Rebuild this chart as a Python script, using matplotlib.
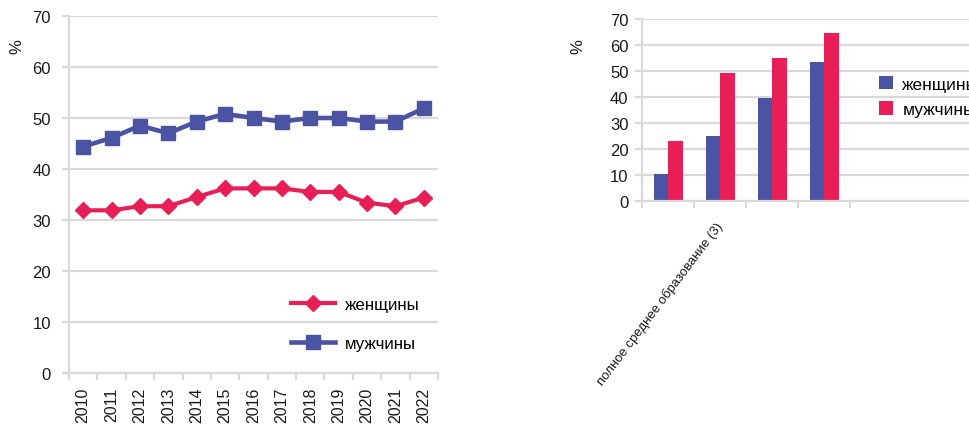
import matplotlib
matplotlib.use("Agg")
import matplotlib.pyplot as plt
import numpy as np

plt.rcParams['font.family'] = ['Liberation Sans', 'DejaVu Sans']

# Share of the population by year (%)
years = ['2010', '2011', '2012', '2013', '2014', '2015', '2016',
         '2017', '2018', '2019', '2020', '2021', '2022']
women_trend = [31.9, 31.9, 32.7, 32.7, 34.5, 36.2, 36.2, 36.2, 35.5, 35.5, 33.4, 32.7, 34.4]
men_trend = [44.4, 46.1, 48.5, 47.0, 49.3, 50.8, 50.0, 49.3, 50.0, 50.0, 49.3, 49.3, 51.9]

# Share by level of education (%)
edu_labels = ['', 'полное среднее образование (3)', '', '']
women_edu = [10.5, 25.1, 39.7, 53.5]
men_edu = [23.2, 49.3, 55.1, 64.7]

series_names = ['женщины', 'мужчины']

BLUE = '#4B53A3'
RED = '#E71F56'
GRID = '#D9D9D9'
TEXT = '#1a1a1a'
W, H = 969, 427

fig = plt.figure(figsize=(W / 100, H / 100), dpi=100)


def style_axes(ax, pad):
    ax.set_ylim(0, 70)
    ax.set_yticks(np.arange(0, 71, 10))
    ax.grid(axis='y', color=GRID, linewidth=1.6)
    ax.set_axisbelow(True)
    for side in ('top', 'right'):
        ax.spines[side].set_visible(False)
    for side in ('left', 'bottom'):
        ax.spines[side].set_color(GRID)
        ax.spines[side].set_linewidth(1.6)
    ax.tick_params(axis='y', which='major', color=GRID, width=1.6, length=5,
                   pad=pad, labelsize=12, labelcolor=TEXT)
    ax.tick_params(axis='x', which='major', color=GRID, width=1.6, length=5,
                   labelbottom=False)


# ---- line chart ----
ax1 = fig.add_axes([69 / W, 1 - 374 / H, (438 - 69) / W, (374 - 17) / H])
style_axes(ax1, pad=8)
n = len(years)
x = np.arange(n) + 0.5
ax1.set_xlim(0, n)
ax1.set_xticks(np.arange(n + 1))
ax1.set_xticks(x, minor=True)
ax1.set_xticklabels(years, minor=True, rotation=90)
ax1.tick_params(axis='x', which='minor', length=0, pad=10, labelsize=11.5,
                labelcolor=TEXT)
ax1.plot(x, women_trend, color=RED, linewidth=3, marker='D', markersize=8.5,
         label=series_names[0], clip_on=False)
ax1.plot(x, men_trend, color=BLUE, linewidth=3.3, marker='s', markersize=10,
         label=series_names[1], clip_on=False)
ax1.legend(loc='upper left', bbox_to_anchor=(291 / W, 1 - 298 / H),
           bbox_transform=fig.transFigure, frameon=False, numpoints=1,
           fontsize=12.2, handlelength=2.6, handletextpad=0.6,
           labelspacing=1.4, borderpad=0, borderaxespad=0)
fig.text(17 / W, 1 - 47 / H, '%', rotation=90, ha='center', va='center',
         fontsize=12, color=TEXT)

# ---- bar chart ----
left2 = 642.3
ax2 = fig.add_axes([left2 / W, 1 - 202.3 / H, (W - left2) / W, (202.3 - 20) / H])
style_axes(ax2, pad=5)
cat_w = 52.0
m = len(edu_labels)
ax2.set_xlim(0, (W - left2) / cat_w)
ax2.set_xticks(np.arange(m + 1))
xc = np.arange(m) + 0.5
bw = 0.28
ax2.bar(xc - bw / 2, women_edu, width=bw, color=BLUE, label=series_names[0])
ax2.bar(xc + bw / 2, men_edu, width=bw, color=RED, label=series_names[1])
ax2.set_xticks(xc, minor=True)
ax2.set_xticklabels(edu_labels, minor=True, rotation=53, ha='right',
                    va='center', rotation_mode='anchor')
ax2.tick_params(axis='x', which='minor', length=0, pad=16, labelsize=9.5,
                labelcolor=TEXT)
ax2.legend(loc='upper left', bbox_to_anchor=(879 / W, 1 - 77 / H),
           bbox_transform=fig.transFigure, frameon=False, fontsize=12.5,
           handlelength=0.8, handleheight=0.8, handletextpad=0.55,
           labelspacing=0.55, borderpad=0, borderaxespad=0)
fig.text(578 / W, 1 - 47 / H, '%', rotation=90, ha='center', va='center',
         fontsize=12, color=TEXT)

fig.savefig('out.png', dpi=100)
